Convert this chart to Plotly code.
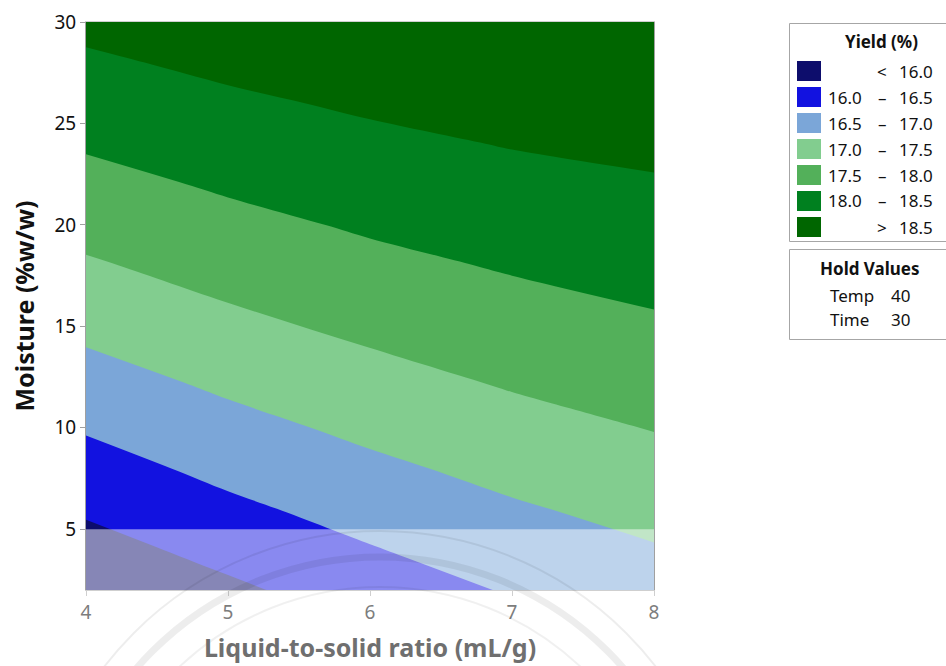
import plotly.graph_objects as go

# Response surface: Yield (%) vs liquid-to-solid ratio and moisture
ratio = [4, 5, 6, 7, 8]
moisture = [2, 4, 6, 8, 10, 12, 14, 16, 18, 20, 22, 24, 26, 28, 30]
yield_pct = [
    [15.560, 15.909, 16.246, 16.540, 16.768],
    [15.818, 16.157, 16.473, 16.743, 16.968],
    [16.067, 16.401, 16.688, 16.945, 17.154],
    [16.308, 16.630, 16.902, 17.140, 17.338],
    [16.546, 16.849, 17.108, 17.333, 17.519],
    [16.775, 17.065, 17.308, 17.523, 17.685],
    [17.004, 17.275, 17.507, 17.698, 17.850],
    [17.225, 17.485, 17.694, 17.872, 18.014],
    [17.446, 17.679, 17.880, 18.043, 18.162],
    [17.652, 17.872, 18.060, 18.204, 18.311],
    [17.854, 18.061, 18.230, 18.364, 18.459],
    [18.052, 18.241, 18.400, 18.523, 18.601],
    [18.241, 18.422, 18.566, 18.672, 18.739],
    [18.431, 18.598, 18.725, 18.822, 18.878],
    [18.613, 18.771, 18.884, 18.971, 19.017],
]

levels = [16.0, 16.5, 17.0, 17.5, 18.0, 18.5]
band_colors = ["#0d0d6c", "#1212e0", "#7ba6d8", "#82cd8f", "#53b05a", "#00801f", "#006600"]

hold_factors = ["Temp", "Time"]
hold_values = [40, 30]

x_ticks = [4, 5, 6, 7, 8]
y_ticks = [5, 10, 15, 20, 25, 30]

FONT = "Noto Sans"
step = levels[1] - levels[0]
n_bands = len(band_colors)
colorscale = [[i / (n_bands - 1), c] for i, c in enumerate(band_colors)]

fig = go.Figure()
fig.add_trace(go.Contour(
    x=ratio, y=moisture, z=yield_pct,
    autocontour=False,
    contours=dict(start=levels[0], end=levels[-1], size=step,
                  coloring="fill", showlines=False),
    colorscale=colorscale,
    line=dict(width=0),
    showscale=False,
    hoverinfo="skip",
))

# plot-area pixel geometry (figure 946 x 666)
W, H = 946, 666
L, R, T, B = 86, 292, 22, 76
pw, ph = W - L - R, H - T - B


def px(xp):
    return (xp - L) / pw


def py(yp):
    return (H - B - yp) / ph


shapes = []
annotations = []

# washed-out band along the lower edge of the plot
shapes.append(dict(type="rect", xref="x", yref="y", x0=4, x1=8, y0=2, y1=5,
                   fillcolor="rgba(255,255,255,0.5)", line=dict(width=0), layer="above"))

# faint seal rings behind the lower part of the figure
cx, cy = 380, 879
for r, w, a in [(322, 7, 0.07), (348, 2, 0.07), (292, 2, 0.06)]:
    shapes.append(dict(type="circle", xref="paper", yref="paper",
                       x0=px(cx - r), x1=px(cx + r), y0=py(cy + r), y1=py(cy - r),
                       line=dict(color=f"rgba(0,0,0,{a})", width=w), layer="above"))

# legend box for the yield bands
shapes.append(dict(type="rect", xref="paper", yref="paper",
                   x0=px(789.5), x1=px(952), y0=py(241.5), y1=py(23.5),
                   line=dict(color="#a6a6a6", width=1), fillcolor="white"))
annotations.append(dict(x=px(881), y=py(42), xref="paper", yref="paper",
                        text="<b>Yield (%)</b>", showarrow=False,
                        font=dict(family=FONT, size=17, color="#111"),
                        xanchor="center", yanchor="middle"))

row0, row_gap = 71, 26
for i, col in enumerate(band_colors):
    yc = row0 + i * row_gap
    shapes.append(dict(type="rect", xref="paper", yref="paper",
                       x0=px(797), x1=px(821), y0=py(yc + 10), y1=py(yc - 10),
                       fillcolor=col, line=dict(width=0)))
    if i == 0:
        left, mid, right = "", "<", f"{levels[0]:.1f}"
    elif i == n_bands - 1:
        left, mid, right = "", ">", f"{levels[-1]:.1f}"
    else:
        left, mid, right = f"{levels[i-1]:.1f}", "–", f"{levels[i]:.1f}"
    lf = dict(family=FONT, size=17, color="#111")
    if left:
        annotations.append(dict(x=px(864), y=py(yc), xref="paper", yref="paper",
                                text=left, showarrow=False, font=lf,
                                xanchor="right", yanchor="middle"))
    annotations.append(dict(x=px(882), y=py(yc), xref="paper", yref="paper",
                            text=mid, showarrow=False, font=lf,
                            xanchor="center", yanchor="middle"))
    annotations.append(dict(x=px(935), y=py(yc), xref="paper", yref="paper",
                            text=right, showarrow=False, font=lf,
                            xanchor="right", yanchor="middle"))

# hold values box
shapes.append(dict(type="rect", xref="paper", yref="paper",
                   x0=px(789.5), x1=px(952), y0=py(339.5), y1=py(249.5),
                   line=dict(color="#a6a6a6", width=1), fillcolor="white"))
annotations.append(dict(x=px(870), y=py(268), xref="paper", yref="paper",
                        text="<b>Hold Values</b>", showarrow=False,
                        font=dict(family=FONT, size=17, color="#111"),
                        xanchor="center", yanchor="middle"))
for k, (name, val) in enumerate(zip(hold_factors, hold_values)):
    yc = 295 + k * 24
    hf = dict(family=FONT, size=17, color="#111")
    annotations.append(dict(x=px(828), y=py(yc), xref="paper", yref="paper",
                            text=name, showarrow=False, font=hf,
                            xanchor="left", yanchor="middle"))
    annotations.append(dict(x=px(912), y=py(yc), xref="paper", yref="paper",
                            text=str(val), showarrow=False, font=hf,
                            xanchor="right", yanchor="middle"))

fig.update_layout(
    width=W, height=H,
    margin=dict(l=L, r=R, t=T, b=B, autoexpand=False),
    paper_bgcolor="white", plot_bgcolor="white",
    font=dict(family=FONT),
    showlegend=False,
    shapes=shapes,
    annotations=annotations,
    xaxis=dict(
        range=[4, 8], tickvals=x_ticks, ticks="outside", ticklen=5,
        tickcolor="#cfcfcf", showline=True, linecolor="#cfcfcf", linewidth=1,
        mirror=True, showgrid=False, zeroline=False,
        tickfont=dict(family=FONT, size=19, color="#7d7d7d"),
        title=dict(text="<b>Liquid-to-solid ratio (mL/g)</b>", standoff=15,
                   font=dict(family=FONT, size=25, color="#6f6f6f")),
    ),
    yaxis=dict(
        range=[2, 30], tickvals=y_ticks, ticks="outside", ticklen=5,
        tickcolor="#a0a0a0", showline=True, linecolor="#a0a0a0", linewidth=1,
        mirror=True, showgrid=False, zeroline=False,
        tickfont=dict(family=FONT, size=19, color="#111"),
        title=dict(text="<b>Moisture (%w/w)</b>", standoff=12,
                   font=dict(family=FONT, size=25, color="#111")),
    ),
)

fig.write_html("out.html")
